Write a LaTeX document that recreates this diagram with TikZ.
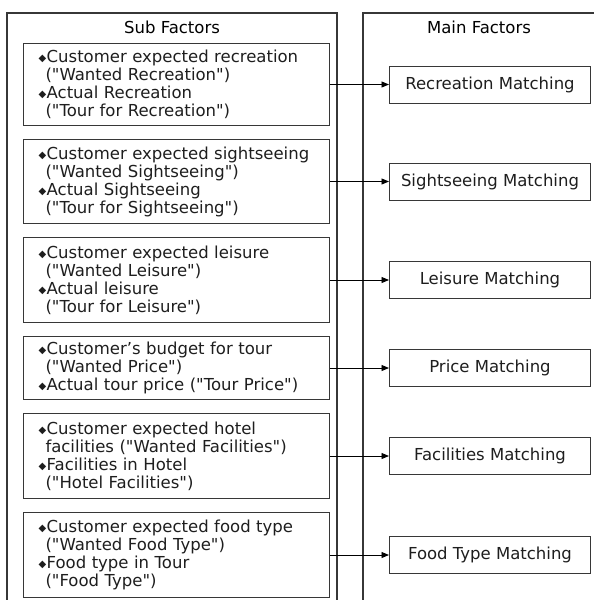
\documentclass[tikz,border=0pt]{standalone}
\usepackage{fontspec}
\setmainfont{DejaVu Sans}
\usepackage{tikz}
\usetikzlibrary{positioning,arrows.meta}
\definecolor{borde}{RGB}{55,55,55}
\definecolor{texto}{RGB}{30,30,30}
\newcommand{\rombo}{{\fontsize{10}{10}\selectfont\raisebox{1pt}{◆}}\hspace{0.5pt}}
\newcommand{\sangria}{\hspace*{7pt}}
\newcommand{\cita}[1]{(\textquotedbl#1\textquotedbl)}

\begin{document}
\begin{tikzpicture}[x=1pt, y=1pt,
  panel/.style={draw=borde, line width=1.2pt},
  titulo/.style={font=\fontsize{16.5}{18}\selectfont, text=black},
  factor/.style={draw=borde, line width=1pt, anchor=north west,
                 text width=276pt, inner xsep=15pt, align=left,
                 font=\fontsize{16.5}{18}\selectfont, text=texto},
  coincide/.style={draw=borde, line width=1pt, minimum width=201pt,
                   minimum height=37pt, font=\fontsize{16.5}{18}\selectfont,
                   text=texto},
  flecha/.style={-{Triangle[length=7.5pt,width=6pt]}, line width=0.9pt, draw=black}]
  \useasboundingbox (0,0) rectangle (594,-600);
  % paneles abiertos por abajo
  \draw[panel] (7,-600) |- (337,-13) -- (337,-600);
  \draw[panel] (363,-600) |- (594,-13);
  \node[titulo] (hsub) at (172,-27) {Sub Factors};
  \node[titulo] (hmain) at (479,-27) {Main Factors};
  % subfactores
  \node[factor, minimum height=82pt] (s1) at (23,-43)
       {\rombo Customer expected recreation\\\sangria\cita{Wanted Recreation}\\
        \rombo Actual Recreation\\\sangria\cita{Tour for Recreation}};
  \node[factor, minimum height=84pt, below=13pt of s1.south west, anchor=north west] (s2)
       {\rombo Customer expected sightseeing\\\sangria\cita{Wanted Sightseeing}\\
        \rombo Actual Sightseeing\\\sangria\cita{Tour for Sightseeing}};
  \node[factor, minimum height=85pt, below=13pt of s2.south west, anchor=north west] (s3)
       {\rombo Customer expected leisure\\\sangria\cita{Wanted Leisure}\\
        \rombo Actual leisure\\\sangria\cita{Tour for Leisure}};
  \node[factor, minimum height=63pt, below=13pt of s3.south west, anchor=north west] (s4)
       {\rombo Customer's budget for tour\\\sangria\cita{Wanted Price}\\
        \rombo Actual tour price \cita{Tour Price}};
  \node[factor, minimum height=85pt, below=13pt of s4.south west, anchor=north west] (s5)
       {\rombo Customer expected hotel\\\sangria facilities \cita{Wanted Facilities}\\
        \rombo Facilities in Hotel\\\sangria\cita{Hotel Facilities}};
  \node[factor, minimum height=85pt, below=13pt of s5.south west, anchor=north west] (s6)
       {\rombo Customer expected food type\\\sangria\cita{Wanted Food Type}\\
        \rombo Food type in Tour\\\sangria\cita{Food Type}};
  % factores principales
  \node[coincide, right=59pt of s1] (m1) {Recreation Matching};
  \node[coincide, right=59pt of s2] (m2) {Sightseeing Matching};
  \node[coincide, right=59pt of s3] (m3) {Leisure Matching};
  \node[coincide, right=59pt of s4] (m4) {Price Matching};
  \node[coincide, right=59pt of s5] (m5) {Facilities Matching};
  \node[coincide, right=59pt of s6] (m6) {Food Type Matching};
  \draw[flecha] (s1) -- (m1);
  \draw[flecha] (s2) -- (m2);
  \draw[flecha] (s3) -- (m3);
  \draw[flecha] (s4) -- (m4);
  \draw[flecha] (s5) -- (m5);
  \draw[flecha] (s6) -- (m6);
\end{tikzpicture}
\end{document}
